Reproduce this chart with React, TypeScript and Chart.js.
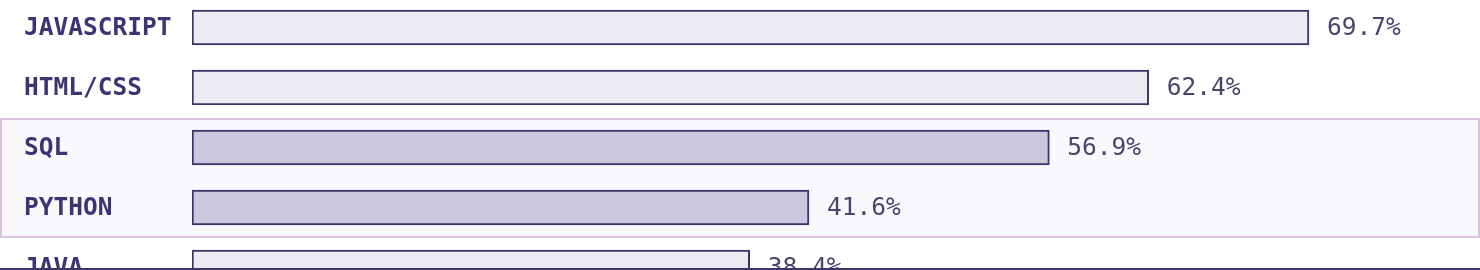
import React, { useEffect, useRef } from "react";
import { Chart, registerables } from "chart.js";

Chart.register(...registerables);

const categories = ["JAVASCRIPT", "HTML/CSS", "SQL", "PYTHON", "JAVA"];
const shareLabels = ["69.7%", "62.4%", "56.9%", "41.6%", "38.4%"];
const barLengths = [69.7, 59.7, 53.5, 38.5, 34.8];
const highlighted = ["SQL", "PYTHON"];

const TEXT_DARK = "#3b3574";
const TEXT_VALUE = "#48456e";
const BAR_BORDER = "#3b3568";
const BAR_FILL = "#ecebf3";
const BAR_FILL_HI = "#cbc7df";
const HI_BG = "#f9f8fd";
const HI_BORDER = "#dcc2e2";

export default function App() {
  const ref = useRef<HTMLCanvasElement | null>(null);

  useEffect(() => {
    document.body.style.margin = "0";
    document.body.style.background = "#ffffff";
    const canvas = ref.current;
    if (!canvas) return;

    const hiIdx = categories
      .map((c, i) => (highlighted.includes(c) ? i : -1))
      .filter((i) => i >= 0);

    const decor = {
      id: "decor",
      beforeDatasetsDraw(chart: any) {
        const { ctx, scales } = chart;
        const y = scales.y;
        const W = chart.width;
        if (hiIdx.length) {
          const top = Math.round(y.getPixelForValue(Math.min(...hiIdx) - 0.5));
          const bottom = Math.round(y.getPixelForValue(Math.max(...hiIdx) + 0.5));
          ctx.save();
          ctx.fillStyle = HI_BG;
          ctx.fillRect(0, top, W, bottom - top);
          ctx.strokeStyle = HI_BORDER;
          ctx.lineWidth = 2;
          ctx.strokeRect(1, top + 1, W - 2, bottom - top - 2);
          ctx.restore();
        }
        // category labels
        ctx.save();
        ctx.fillStyle = TEXT_DARK;
        ctx.font = "bold 24.5px 'DejaVu Sans Mono'";
        ctx.textAlign = "left";
        ctx.textBaseline = "alphabetic";
        categories.forEach((c, i) => {
          const cy = y.getPixelForValue(i);
          ctx.fillText(c, 24, cy + 7);
        });
        ctx.restore();
      },
      afterDatasetsDraw(chart: any) {
        const { ctx } = chart;
        const meta = chart.getDatasetMeta(0);
        ctx.save();
        ctx.fillStyle = TEXT_VALUE;
        ctx.font = "24.5px 'DejaVu Sans Mono'";
        ctx.textAlign = "left";
        ctx.textBaseline = "alphabetic";
        meta.data.forEach((bar: any, i: number) => {
          ctx.fillText(shareLabels[i], bar.x + 18, bar.y + 7);
        });
        ctx.restore();
      },
      afterDraw(chart: any) {
        const { ctx } = chart;
        ctx.save();
        ctx.fillStyle = BAR_BORDER;
        ctx.fillRect(0, 268, chart.width, 2);
        ctx.restore();
      },
    };

    const chart = new Chart(canvas, {
      type: "bar",
      data: {
        datasets: [
          {
            data: barLengths.map((v, i) => ({ x: v, y: i })),
            backgroundColor: categories.map((c) =>
              highlighted.includes(c) ? BAR_FILL_HI : BAR_FILL
            ),
            borderColor: BAR_BORDER,
            borderWidth: 2,
            borderSkipped: false,
            barThickness: 35,
          } as any,
        ],
      },
      options: {
        indexAxis: "y",
        animation: false,
        responsive: false,
        layout: { padding: { left: 192, right: 6, top: 0, bottom: 0 } },
        plugins: {
          legend: { display: false },
          tooltip: { enabled: false },
        },
        scales: {
          x: {
            type: "linear",
            min: 0,
            max: 80,
            display: false,
          },
          y: {
            type: "linear",
            min: -27.5 / 60,
            max: -27.5 / 60 + 270 / 60,
            reverse: true,
            offset: false,
            grace: 0,
            display: false,
          },
        },
      },
      plugins: [decor],
    });

    return () => chart.destroy();
  }, []);

  return (
    <div style={{ width: 1480, height: 270, overflow: "hidden" }}>
      <canvas ref={ref} width={1480} height={270} style={{ display: "block" }} />
    </div>
  );
}
